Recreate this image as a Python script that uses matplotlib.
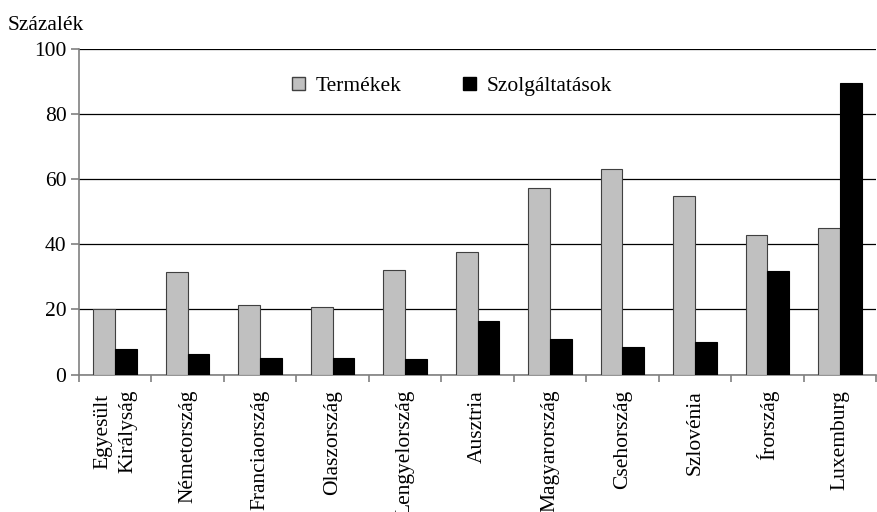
import numpy as np
import matplotlib
matplotlib.use('Agg')
import matplotlib.pyplot as plt
from matplotlib.patches import Patch

plt.rcParams['font.family'] = ['Liberation Serif', 'DejaVu Serif']

# Share of goods and services (percent)
countries = ['Egyesült\nKirályság', 'Németország', 'Franciaország', 'Olaszország',
             'Lengyelország', 'Ausztria', 'Magyarország', 'Csehország',
             'Szlovénia', 'Írország', 'Luxemburg']
termekek = [20.0, 31.4, 21.3, 20.9, 32.1, 37.8, 57.5, 63.3, 55.0, 43.0, 45.1]
szolgaltatasok = [7.9, 6.2, 5.0, 5.1, 4.8, 16.6, 10.9, 8.4, 9.9, 31.9, 89.5]

fs = 15.5

fig = plt.figure(figsize=(8.77, 5.12), dpi=100)
ax = fig.add_axes([79 / 877, 1 - 374.5 / 512, (876 - 79) / 877, (374.5 - 49.3) / 512])

x = np.arange(len(countries))
w = 0.3
ax.bar(x - w / 2, termekek, w, color='#c0c0c0', edgecolor='#404040', linewidth=0.8, zorder=3)
ax.bar(x + w / 2, szolgaltatasok, w, color='black', edgecolor='black', linewidth=0.8, zorder=3)

ax.set_xlim(-0.5, len(countries) - 0.5)
ax.set_ylim(0, 100)
ax.set_yticks(range(0, 101, 20))
ax.yaxis.grid(True, color='black', linewidth=0.9, zorder=0)
ax.set_axisbelow(True)

ax.set_xticks(np.arange(-0.5, len(countries), 1.0))
ax.set_xticklabels([])
ax.set_xticks(x, minor=True)
ax.set_xticklabels(countries, minor=True, rotation=90, fontsize=fs,
                   ha='center', va='top', multialignment='center', linespacing=1.45)
ax.tick_params(axis='x', which='minor', length=0, pad=11)
ax.tick_params(axis='x', which='major', length=5, color='#808080', width=1.2)
ax.tick_params(axis='y', length=6, color='#808080', width=1.2, labelsize=fs, pad=3)

for s in ['top', 'right']:
    ax.spines[s].set_visible(False)
for s in ['left', 'bottom']:
    ax.spines[s].set_color('#808080')
    ax.spines[s].set_linewidth(1.2)

fig.text(8 / 877, 1 - 26 / 512, 'Százalék', fontsize=fs, ha='left', va='center')

handles = [Patch(facecolor='#c0c0c0', edgecolor='#404040', label='Termékek'),
           Patch(facecolor='black', edgecolor='black', label='Szolgáltatások')]
ax.legend(handles=handles, loc='upper center', bbox_to_anchor=(0.468, 0.975), ncol=2,
          frameon=False, fontsize=fs, handlelength=0.6, handleheight=0.6,
          handletextpad=0.5, columnspacing=2.85)

fig.savefig('out.png', dpi=100)
